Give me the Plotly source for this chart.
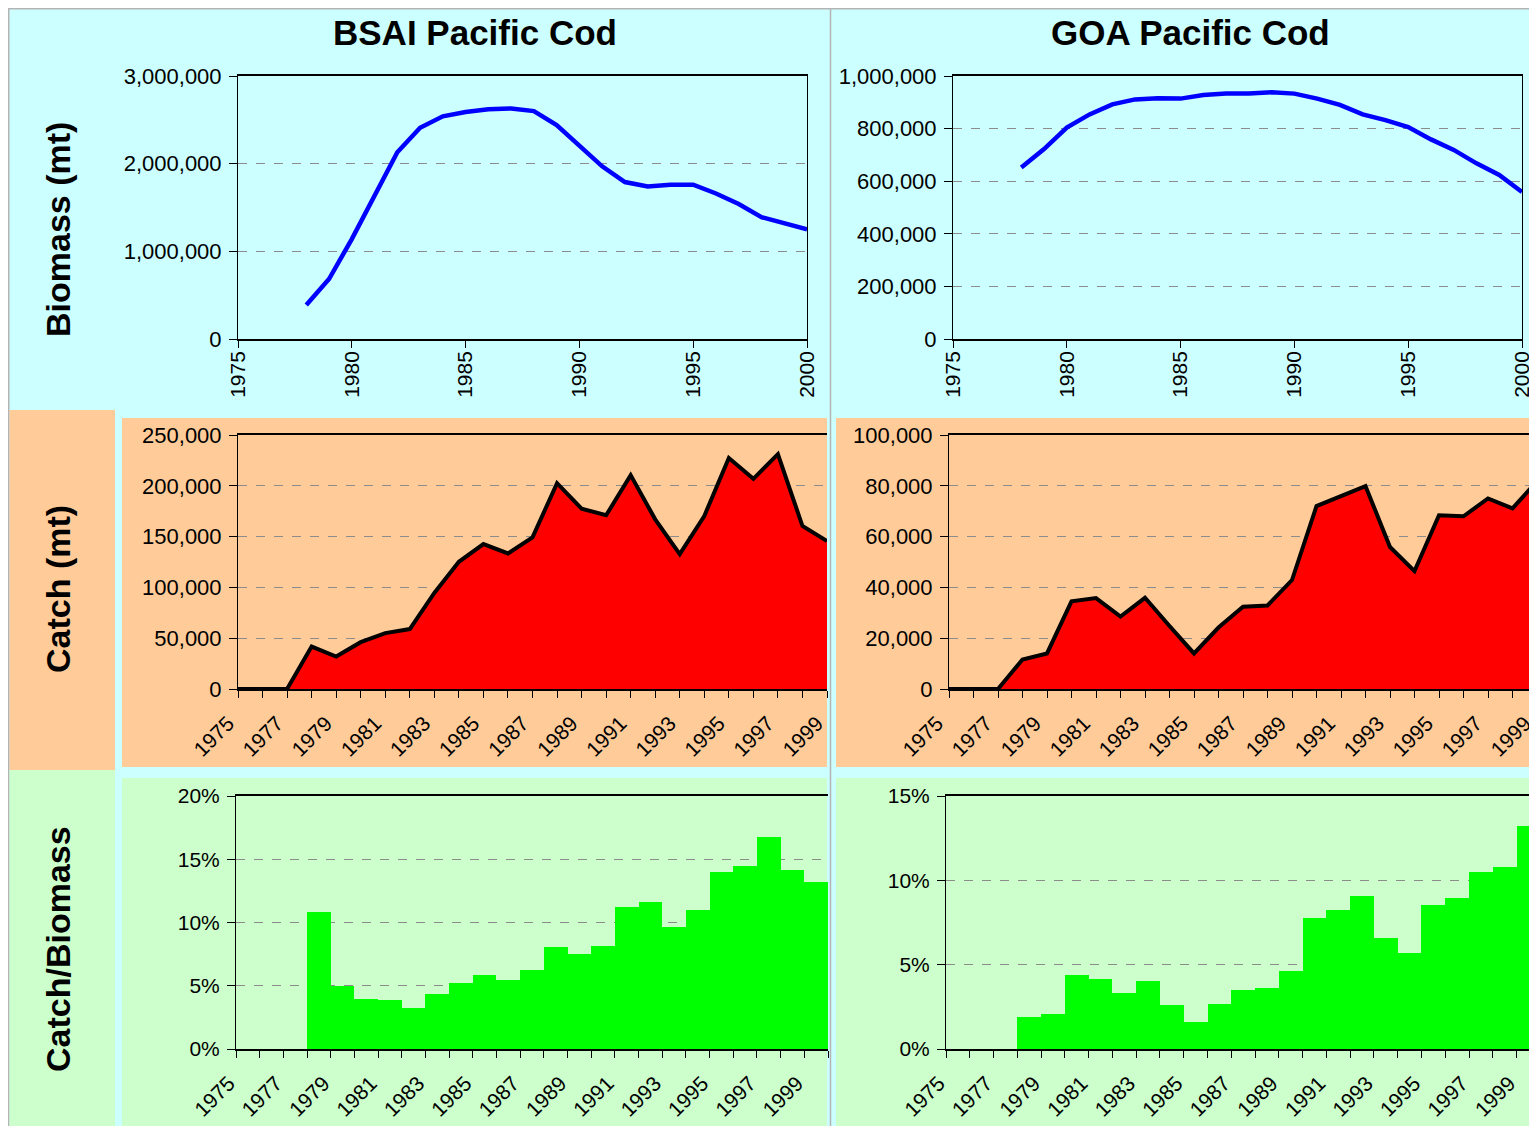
import plotly.graph_objects as go

# the page has an 8px body margin, so the figure is sized to fill the rest
OFF = 8
W, H = 1537 - OFF, 1126 - OFF

# --------------------------------------------------
# DATA
# --------------------------------------------------

bio_years = list(range(1978, 2001))
bsai_biomass = [387000, 684000, 1140000, 1630000, 2130000, 2410000, 2540000, 2590000,
                2620000, 2630000, 2600000, 2440000, 2200000, 1970000, 1790000, 1740000,
                1760000, 1760000, 1660000, 1540000, 1390000, 1320000, 1250000]
goa_biomass = [652000, 722000, 804000, 854000, 892000, 911000, 915000, 914000,
               928000, 933000, 933000, 938000, 933000, 914000, 890000, 854000,
               832000, 806000, 759000, 719000, 668000, 624000, 559000]

catch_years = list(range(1975, 2000))
bsai_catch = [0, 0, 0, 41800, 32000, 46100, 55000, 59000, 94500, 125200, 142600,
              133400, 149200, 202600, 177500, 171000, 210500, 167000, 132700, 170300,
              227300, 206900, 231200, 160400, 145600]
goa_catch = [0, 0, 0, 11600, 14000, 34500, 35800, 28500, 35900, 24800, 14000,
             24200, 32400, 32900, 42900, 72000, 76000, 79900, 55900, 46400,
             68400, 68000, 75000, 71100, 81800]

ratio_years = list(range(1978, 2000))
bsai_ratio = [10.8, 4.97, 3.94, 3.86, 3.26, 4.36, 5.23, 5.83, 5.47, 6.25, 8.04,
              7.52, 8.15, 11.22, 11.59, 9.65, 10.99, 13.98, 14.43, 16.79, 14.19, 13.17]
goa_ratio = [1.91, 2.09, 4.40, 4.16, 3.33, 4.04, 2.62, 1.62, 2.68, 3.51, 3.63,
             4.63, 7.77, 8.24, 9.07, 6.58, 5.70, 8.54, 8.97, 10.49, 10.78, 13.21]

label_years = list(range(1975, 2000, 2))

CYAN = "#CCFFFF"
PEACH = "#FFCC99"
GREEN = "#CCFFCC"
FONT = "Liberation Sans, Arial, sans-serif"


def fx(p):
    return (p - OFF) / W


def fy(p):
    return 1 - (p - OFF) / H


# --------------------------------------------------
# TRACES
# --------------------------------------------------

fig = go.Figure()

fig.add_trace(go.Scatter(x=bio_years, y=bsai_biomass, mode="lines",
                         line=dict(color="#0000FF", width=4.5), xaxis="x", yaxis="y"))
fig.add_trace(go.Scatter(x=bio_years, y=goa_biomass, mode="lines",
                         line=dict(color="#0000FF", width=4.5), xaxis="x2", yaxis="y2"))

fig.add_trace(go.Scatter(x=catch_years, y=bsai_catch, mode="lines", fill="tozeroy",
                         fillcolor="#FF0000", line=dict(color="black", width=4),
                         xaxis="x3", yaxis="y3"))
fig.add_trace(go.Scatter(x=catch_years, y=goa_catch, mode="lines", fill="tozeroy",
                         fillcolor="#FF0000", line=dict(color="black", width=4),
                         xaxis="x4", yaxis="y4"))

fig.add_trace(go.Bar(x=ratio_years, y=bsai_ratio, width=1, marker=dict(color="#00FF00", line=dict(width=0)),
                     xaxis="x5", yaxis="y5"))
fig.add_trace(go.Bar(x=ratio_years, y=goa_ratio, width=1, marker=dict(color="#00FF00", line=dict(width=0)),
                     xaxis="x6", yaxis="y6"))

# --------------------------------------------------
# AXES
# --------------------------------------------------

numfont = dict(family=FONT, size=22, color="black")
smallfont = dict(family=FONT, size=21, color="black")


def yax(y0, y1, rng, dtick, fmt=",d", suffix="", anchor="x", font=numfont):
    return dict(domain=[fy(y1), fy(y0)], range=rng, dtick=dtick, tick0=0,
                tickformat=fmt, ticksuffix=suffix, anchor=anchor, automargin=False,
                showline=True, linecolor="black", linewidth=1,
                ticks="outside", ticklen=8, tickcolor="black", tickfont=font,
                ticklabelstandoff=3,
                showgrid=True, gridcolor="#8C8C8C", griddash="dash", gridwidth=1,
                zeroline=False)


def xax_top(x0, x1, anchor):
    return dict(domain=[fx(x0), fx(x1)], range=[1975, 2000], dtick=5, tick0=1975,
                anchor=anchor, automargin=False, showline=True, linecolor="black",
                linewidth=1.5, mirror=True, ticklabelstandoff=-5,
                ticks="outside", ticklen=7, tickcolor="black", tickangle=-90,
                tickfont=smallfont, showgrid=False, zeroline=False)


def xax_cat(x0, x1, rng, anchor, shift, minor_vals):
    # labels sit a little left of their category, as in the original chart
    return dict(domain=[fx(x0), fx(x1)], range=rng, tickmode="array",
                tickvals=label_years, anchor=anchor, automargin=False, showline=True,
                linecolor="black", linewidth=1.5, mirror=True,
                ticks="outside", ticklen=7, tickcolor="rgba(0,0,0,0)",
                ticklabelstandoff=5, ticklabelshift=shift,
                tickangle=-45, tickfont=smallfont, showgrid=False, zeroline=False,
                minor=dict(tickvals=minor_vals, ticks="outside", ticklen=7,
                           tickcolor="black", showgrid=False))


area_ticks = list(range(1975, 2000))
bar_ticks = [y + 0.5 for y in range(1974, 2000)]

layout_axes = dict(
    xaxis=xax_top(238, 807, "y"),
    yaxis=yax(76, 339, [0, 3000000], 1000000, anchor="x"),
    xaxis2=xax_top(953, 1522, "y2"),
    yaxis2=yax(76, 339, [0, 1000000], 200000, anchor="x2"),
    xaxis3=xax_cat(238, 827, [1975, 1999], "y3", -10, area_ticks),
    yaxis3=yax(435, 689, [0, 250000], 50000, anchor="x3"),
    xaxis4=xax_cat(949, 1537, [1975, 1999], "y4", -12, area_ticks),
    yaxis4=yax(435, 689, [0, 100000], 20000, anchor="x4"),
    xaxis5=xax_cat(236, 828, [1974.5, 1999.5], "y5", -19, bar_ticks),
    yaxis5=yax(796, 1049, [0, 20], 5, fmt="d", suffix="%", anchor="x5", font=smallfont),
    xaxis6=xax_cat(946, 1537, [1974.5, 1999.36], "y6", -19, bar_ticks),
    yaxis6=yax(796, 1049, [0, 15], 5, fmt="d", suffix="%", anchor="x6", font=smallfont),
)
layout_axes["yaxis"]["mirror"] = True
layout_axes["yaxis2"]["mirror"] = True

# --------------------------------------------------
# BACKGROUND PANELS
# --------------------------------------------------


def rect(x0, y0, x1, y1, color, line=None):
    return dict(type="rect", xref="paper", yref="paper", layer="below",
                x0=fx(x0), x1=fx(x1), y0=fy(y1), y1=fy(y0),
                fillcolor=color, line=line or dict(width=0))


shapes = [
    rect(8.75, 8.75, 1545, 1135, CYAN, dict(color="#B4B4B4", width=1.5)),
    rect(9.5, 410, 115, 770, PEACH),
    rect(9.5, 770, 115, 1130, GREEN),
    rect(122, 418, 827, 767, PEACH),
    rect(836, 418, 1540, 767, PEACH),
    rect(122, 778, 827, 1130, GREEN),
    rect(836, 778, 1540, 1130, GREEN),
    dict(type="line", xref="paper", yref="paper", layer="below",
         x0=fx(830.5), x1=fx(830.5), y0=0, y1=fy(8.75), line=dict(color="#B4B4B4", width=1.5)),
]

# --------------------------------------------------
# TEXT
# --------------------------------------------------

annotations = [
    dict(text="<b>BSAI Pacific Cod</b>", x=fx(475), y=fy(33), font=dict(family=FONT, size=35)),
    dict(text="<b>GOA Pacific Cod</b>", x=fx(1190), y=fy(33), font=dict(family=FONT, size=35)),
    dict(text="<b>Biomass (mt)</b>", x=fx(58), y=fy(230), textangle=-90, font=dict(family=FONT, size=34)),
    dict(text="<b>Catch (mt)</b>", x=fx(58), y=fy(589), textangle=-90, font=dict(family=FONT, size=34)),
    dict(text="<b>Catch/Biomass</b>", x=fx(58), y=fy(949), textangle=-90, font=dict(family=FONT, size=34)),
]
for a in annotations:
    a.update(xref="paper", yref="paper", showarrow=False, xanchor="center", yanchor="middle")
    a["font"]["color"] = "black"

fig.update_layout(
    width=W, height=H,
    margin=dict(l=0, r=0, t=0, b=0, autoexpand=False),
    paper_bgcolor="white",
    plot_bgcolor="rgba(0,0,0,0)",
    showlegend=False,
    bargap=0,
    shapes=shapes,
    annotations=annotations,
    **layout_axes,
)

fig.write_html("out.html")
